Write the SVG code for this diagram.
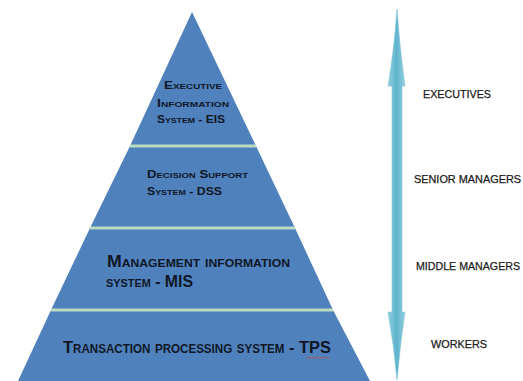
<svg xmlns="http://www.w3.org/2000/svg" width="523" height="381" viewBox="0 0 523 381">
<defs>
<style>
.lvl{fill:#4f81bd;}
.sep{stroke:#b9dcc0;stroke-width:3;}
.pt{font-family:"Liberation Sans","DejaVu Sans",sans-serif;font-variant:small-caps;font-weight:bold;fill:#0f1726;}
.lab{font-family:"Liberation Sans",Arial,sans-serif;font-size:11px;fill:#1a1a1a;stroke:#1a1a1a;stroke-width:0.25;}
</style>
<linearGradient id="ag" x1="0" y1="0" x2="1" y2="0">
<stop offset="0" stop-color="#93d0e0"/>
<stop offset="0.5" stop-color="#5fb3cc"/>
<stop offset="1" stop-color="#93d0e0"/>
</linearGradient>
</defs>
<rect width="523" height="381" fill="#ffffff"/>
<g id="eis">
<polygon class="lvl" points="192,12 130,146 256,146"/>
<text class="pt" font-size="11" x="164" y="89" textLength="58" lengthAdjust="spacingAndGlyphs">Executive</text>
<text class="pt" font-size="11" x="157" y="107" textLength="72" lengthAdjust="spacingAndGlyphs">Information</text>
<text class="pt" font-size="11" x="157" y="123" textLength="68" lengthAdjust="spacingAndGlyphs">System - EIS</text>
</g>
<g id="dss">
<polygon class="lvl" points="130,146 256,146 295,228 90,228"/>
<text class="pt" font-size="11" x="147" y="178" textLength="101" lengthAdjust="spacingAndGlyphs">Decision Support</text>
<text class="pt" font-size="11" x="147" y="195" textLength="75" lengthAdjust="spacingAndGlyphs">System - DSS</text>
</g>
<g id="mis">
<polygon class="lvl" points="90,228 295,228 333,310 51,310"/>
<text class="pt" font-size="16" x="107" y="267" textLength="183" lengthAdjust="spacingAndGlyphs">Management information</text>
<text class="pt" font-size="16" x="106" y="287" textLength="87" lengthAdjust="spacingAndGlyphs">system - MIS</text>
</g>
<g id="tps">
<polygon class="lvl" points="51,310 333,310 370,381 18,381"/>
<text class="pt" font-size="17" x="63" y="353" textLength="268" lengthAdjust="spacingAndGlyphs">Transaction processing system - TPS</text>
<path d="M306,357 l2,1.5 l2,-1.5 l2,1.5 l2,-1.5 l2,1.5 l2,-1.5 l2,1.5 l2,-1.5 l2,1.5 l2,-1.5 l2,1.5 l2,-1.5" fill="none" stroke="#c0504d" stroke-width="0.8"/>
</g>
<g id="separators">
<line class="sep" x1="130" y1="146" x2="256" y2="146"/>
<line class="sep" x1="90" y1="228" x2="295" y2="228"/>
<line class="sep" x1="51" y1="310" x2="333" y2="310"/>
</g>
<g id="connectors">
<path d="M397,9 Q400,50 405,86 L402,86 L402,312 L405,312 Q400,346 397,380 Q394,346 388,312 L392,312 L392,86 L388,86 Q394,50 397,9 Z" fill="url(#ag)" stroke="#7abfd2" stroke-width="0.5"/>
</g>
<g id="labels">
<text class="lab" x="423" y="98" textLength="68" lengthAdjust="spacingAndGlyphs">EXECUTIVES</text>
<text class="lab" x="414" y="183" textLength="107" lengthAdjust="spacingAndGlyphs">SENIOR MANAGERS</text>
<text class="lab" x="416" y="270" textLength="104" lengthAdjust="spacingAndGlyphs">MIDDLE MANAGERS</text>
<text class="lab" x="431" y="348" textLength="56" lengthAdjust="spacingAndGlyphs">WORKERS</text>
</g>
</svg>
